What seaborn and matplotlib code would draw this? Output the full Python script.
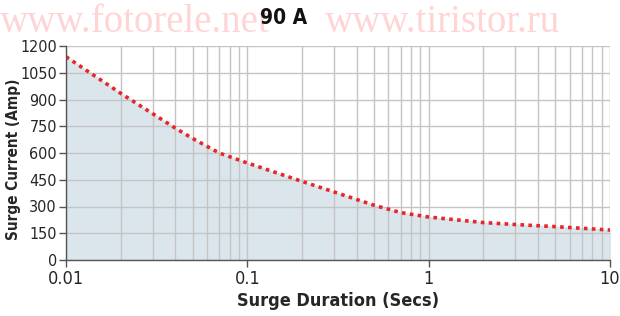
import matplotlib
matplotlib.use("Agg")
import matplotlib.pyplot as plt
from matplotlib.ticker import FixedLocator, LogLocator, NullFormatter, FuncFormatter
import seaborn as sns
import pandas as pd

# Datos
duracion_segs = [0.01, 0.02, 0.03, 0.04, 0.05, 0.07, 0.1, 0.2, 0.3, 0.5, 0.7, 1, 2, 3, 5, 10]
corriente_amp = [1140, 935, 821, 740, 681, 600, 544, 441, 382, 307, 266, 241, 210, 199, 187, 168]
ticks_y = [0, 150, 300, 450, 600, 750, 900, 1050, 1200]
ticks_x = [0.01, 0.1, 1, 10]
etiquetas_x = ["0.01", "0.1", "1", "10"]

datos = pd.DataFrame({"duracion": duracion_segs, "corriente": corriente_amp})

sns.set_style("white")
plt.rcParams["font.family"] = ["DejaVu Sans"]
plt.rcParams["font.stretch"] = "condensed"

figura = plt.figure(figsize=(6.2, 3.16), dpi=100)
area = figura.add_axes([66 / 620, 56 / 316, 544 / 620, 214 / 316])

# Marca de agua rosa al fondo
figura.text(0.0, 1 - 22 / 316, "www.fotorele.net", family="Liberation Serif",
            stretch="normal", fontsize=28, color="#ffd4d4", va="center", ha="left", zorder=0)
figura.text(325 / 620, 1 - 22 / 316, "www.tiristor.ru", family="Liberation Serif",
            stretch="normal", fontsize=28, color="#ffd4d4", va="center", ha="left", zorder=0)

area.fill_between(datos["duracion"], datos["corriente"], 0, color="#dae6ec", zorder=1)
sns.lineplot(data=datos, x="duracion", y="corriente", ax=area, color="#e8262a",
             linewidth=2.6, linestyle=(0, (1, 1.2)), zorder=3)

area.set_xscale("log")
area.set_xlim(0.01, 10)
area.set_ylim(0, 1200)
area.xaxis.set_major_locator(FixedLocator(ticks_x))
area.xaxis.set_major_formatter(FuncFormatter(lambda v, p: etiquetas_x[ticks_x.index(v)] if v in ticks_x else ""))
area.xaxis.set_minor_locator(LogLocator(base=10, subs=range(2, 10)))
area.xaxis.set_minor_formatter(NullFormatter())
area.yaxis.set_major_locator(FixedLocator(ticks_y))

area.grid(True, which="both", color="#c4c4c4", linewidth=1.0)
area.set_axisbelow(False)

for lado in ["top", "right"]:
    area.spines[lado].set_visible(False)
for lado in ["left", "bottom"]:
    area.spines[lado].set_color("#555555")
    area.spines[lado].set_linewidth(1.0)
    area.spines[lado].set_zorder(4)

area.tick_params(axis="both", which="major", direction="out", length=5, width=1,
                 color="#555555", labelsize=13, pad=2, left=True, bottom=True)
area.tick_params(axis="y", labelsize=11.5, pad=1.5)
area.tick_params(axis="x", which="minor", length=0)

area.set_xlabel("Surge Duration (Secs)", fontsize=13, fontweight="bold", labelpad=3)
area.set_ylabel("Surge Current (Amp)", fontsize=11, fontweight="bold")
area.yaxis.set_label_coords(-0.083, 0.47)

figura.text(284 / 620, 1 - 18 / 316, "90 A", fontsize=15, fontweight="bold",
            ha="center", va="center", color="#111111")

figura.savefig("out.png", dpi=100)
plt.close(figura)
